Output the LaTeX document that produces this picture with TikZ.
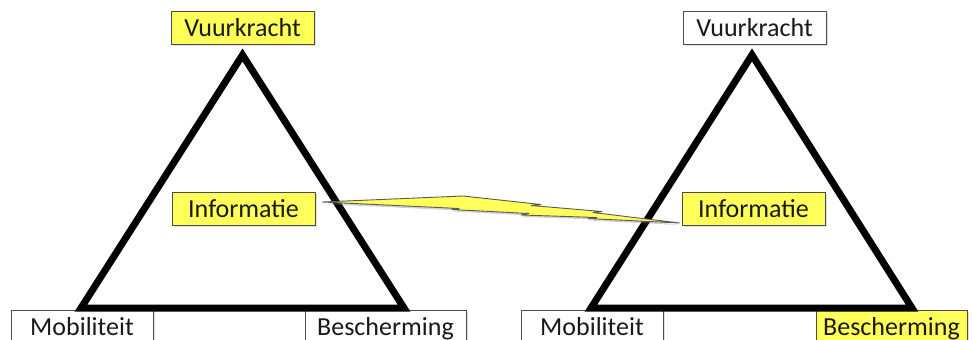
\documentclass[tikz,border=0pt]{standalone}
\usepackage{fontspec}
\setmainfont{Carlito}
\usetikzlibrary{shadows}
\definecolor{hl}{RGB}{255,255,90}
\definecolor{txt}{RGB}{25,25,25}
\tikzset{
  lbl/.style={draw=black!70, line width=1pt, inner sep=0pt, minimum height=33pt,
    font=\fontsize{26}{30}\selectfont, text=txt, fill=white,
    drop shadow={opacity=0.25, shadow xshift=1.5pt, shadow yshift=-1.5pt}},
  lowlbl/.style={lbl, minimum height=40pt, text height=18pt, text depth=8pt},
  yel/.style={fill=hl},
  tri/.style={line width=7pt, line join=miter, draw=black},
  bolt/.style={fill=hl, draw=black!65, line width=0.9pt, line join=round,
    drop shadow={opacity=0.35, shadow xshift=0pt, shadow yshift=-2pt}}
}
\begin{document}
\begin{tikzpicture}[x=1pt,y=-1pt]
\useasboundingbox (0,0) rectangle (972,340);
\clip (0,0) rectangle (972,340);
\fill[white] (0,0) rectangle (972,340);
% bottom labels (below triangles)
\node[lowlbl, minimum width=142pt] (mob1) at (82,330) {Mobiliteit};
\node[lowlbl, minimum width=161pt] (bes1) at (385.5,330) {Bescherming};
\node[lowlbl, minimum width=142pt] (mob2) at (592,330) {Mobiliteit};
\node[lowlbl, yel, minimum width=151pt] (bes2) at (891.5,330) {Bescherming};
% triangles
\coordinate (l1) at (81,308);
\coordinate (r1) at (404,308);
\coordinate (t1) at (242.5,55);
\coordinate (l2) at (591,308);
\coordinate (r2) at (912,308);
\coordinate (t2) at (752,55);
\draw[tri] (l1) -- (t1) -- (r1) -- cycle;
\draw[tri] (l2) -- (t2) -- (r2) -- cycle;
% top and middle labels
\node[lbl, yel, minimum width=143pt] (vk1) at (242.5,27.5) {Vuurkracht};
\node[lbl, minimum width=143pt] (vk2) at (754.5,27.5) {Vuurkracht};
\node[lbl, yel, minimum width=143pt] (inf1) at (243.5,209) {Informatie};
\node[lbl, yel, minimum width=143pt] (inf2) at (753.5,209) {Informatie};
% lightning bolt
\coordinate (b0) at ([xshift=7pt,yshift=7pt]inf1.east);
\coordinate (b1) at ([xshift=-2pt,yshift=-14pt]inf2.west);
\draw[bolt] (b0) -- (463,196) -- (541,204.5) -- (531,205.5) -- (602,211.5) -- (593,212.5)
  -- (b1) -- (588,218.5) -- (597,217.5) -- (521,215) -- (529,213.5) -- (452,209.5) -- (459,208.5) -- cycle;
\end{tikzpicture}
\end{document}
